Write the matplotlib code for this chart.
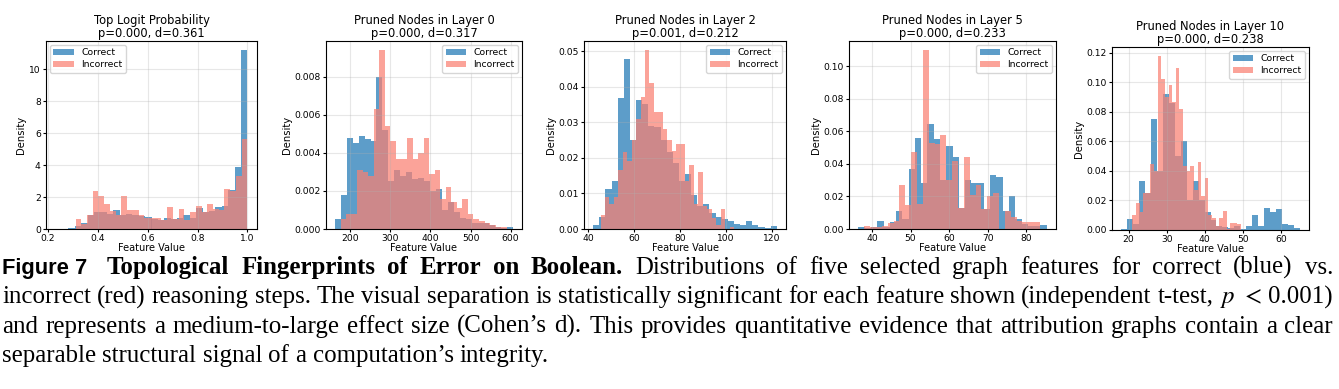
import numpy as np
import matplotlib.pyplot as plt

W, H = 1339, 389

titles = ["Top Logit Probability", "Pruned Nodes in Layer 0", "Pruned Nodes in Layer 2",
          "Pruned Nodes in Layer 5", "Pruned Nodes in Layer 10"]
p_values = ["0.000", "0.000", "0.001", "0.000", "0.000"]
d_values = ["0.361", "0.317", "0.212", "0.233", "0.238"]

# histogram ranges (first/last bin edge) and bar heights (density), 30 bins each
correct_ranges = [(0.23, 1.0), (162, 606), (42.3, 122), (36.5, 85.2), (18, 65)]
incorrect_ranges = [(0.31, 1.0), (176, 590), (45.5, 103.4), (38, 83.5), (21, 49.5)]

correct_density = [
    [0.03, 0.0, 0.06, 0.2, 0.4, 0.9, 1.05, 1.05, 0.95, 1.2, 0.9, 0.95, 0.9, 0.8, 0.75,
     0.65, 0.55, 0.7, 0.65, 0.7, 0.85, 0.7, 1.3, 1.05, 1.1, 1.38, 1.45, 2.42, 3.88, 11.2],
    [0.0005, 0.0018, 0.0048, 0.0045, 0.0049, 0.0047, 0.0046, 0.0080, 0.0052, 0.0025,
     0.0031, 0.0028, 0.0030, 0.0026, 0.0027, 0.0025, 0.0020, 0.0021, 0.0010, 0.0014,
     0.0009, 0.0006, 0.0005, 0.0003, 0.0003, 0.0003, 0.0002, 0.0001, 0.00005, 0.0001],
    [0.001, 0.0035, 0.0112, 0.0135, 0.0368, 0.0477, 0.0251, 0.0362, 0.035, 0.029,
     0.0287, 0.025, 0.0215, 0.0185, 0.0135, 0.0155, 0.0095, 0.0065, 0.007, 0.0045,
     0.0035, 0.0028, 0.0022, 0.0015, 0.0012, 0.0022, 0.0012, 0.0005, 0.0004, 0.0008],
    [0.001, 0.0005, 0.0015, 0.0047, 0.0015, 0.0045, 0.011, 0.006, 0.037, 0.056,
     0.028, 0.0645, 0.055, 0.030, 0.051, 0.044, 0.013, 0.030, 0.028, 0.028,
     0.012, 0.033, 0.032, 0.011, 0.020, 0.006, 0.003, 0.002, 0.002, 0.0025],
    [0.0005, 0.0075, 0.004, 0.033, 0.025, 0.075, 0.040, 0.092, 0.086, 0.050,
     0.060, 0.020, 0.033, 0.020, 0.012, 0.007, 0.003, 0.002, 0.0015, 0.003,
     0.001, 0.003, 0.010, 0.003, 0.015, 0.012, 0.014, 0.004, 0.0035, 0.0015],
]

incorrect_density = [
    [0.6, 0.3, 0.9, 2.35, 2.05, 1.55, 1.15, 0.85, 2.05, 1.2, 1.2, 0.85, 0.7, 0.7, 0.7,
     0.55, 1.4, 0.65, 1.25, 0.55, 1.05, 1.45, 1.05, 1.55, 1.25, 1.2, 2.5, 2.4, 3.3, 5.6],
    [0.0005, 0.0008, 0.0008, 0.0031, 0.0030, 0.0028, 0.0063, 0.0094, 0.0054, 0.0046,
     0.0037, 0.0037, 0.0048, 0.0037, 0.0040, 0.0048, 0.0029, 0.0031, 0.0016, 0.0022,
     0.0014, 0.0011, 0.0016, 0.0008, 0.0005, 0.0004, 0.0003, 0.0002, 0.0001, 0.0001],
    [0.0038, 0.009, 0.007, 0.009, 0.0165, 0.0215, 0.019, 0.025, 0.031, 0.037,
     0.0503, 0.041, 0.033, 0.033, 0.028, 0.025, 0.022, 0.024, 0.024, 0.0135,
     0.018, 0.007, 0.016, 0.0065, 0.0055, 0.003, 0.0012, 0.0055, 0.0, 0.0006],
    [0.002, 0.001, 0.0015, 0.002, 0.0035, 0.005, 0.027, 0.015, 0.047, 0.0155,
     0.110, 0.053, 0.052, 0.058, 0.030, 0.042, 0.013, 0.044, 0.021, 0.027,
     0.012, 0.020, 0.022, 0.0, 0.011, 0.0075, 0.005, 0.0045, 0.0045, 0.0045],
    [0.010, 0.018, 0.012, 0.025, 0.025, 0.045, 0.040, 0.118, 0.102, 0.090,
     0.098, 0.087, 0.110, 0.082, 0.043, 0.040, 0.043, 0.027, 0.046, 0.023,
     0.035, 0.010, 0.008, 0.003, 0.008, 0.013, 0.001, 0.005, 0.005, 0.004],
]

caption_lines = [
    "incorrect (red) reasoning steps. The visual separation is statistically "
    "significant for each feature shown (independent t-test,",
    "and represents a medium-to-large effect size (Cohen’s d). This provides "
    "quantitative evidence that attribution graphs contain a clear",
    "separable structural signal of a computation’s integrity.",
]

# axes boxes in pixels: left, top, right, bottom
boxes = [(46, 41, 257, 229), (326, 41, 522, 229), (584, 41, 786, 229),
         (849, 41, 1056, 229), (1112, 47, 1309, 230)]
legend_locs = ["upper left", "upper right", "upper right", "upper right", "upper right"]

blue = "#1f77b4"
red = "salmon"

fig = plt.figure(figsize=(W / 100, H / 100), dpi=100)

for i in range(5):
    l, t, r, b = boxes[i]
    ax = fig.add_axes([l / W, 1 - b / H, (r - l) / W, (b - t) / H])
    for rng, dens, color, label in [(correct_ranges[i], correct_density[i], blue, "Correct"),
                                    (incorrect_ranges[i], incorrect_density[i], red, "Incorrect")]:
        edges = np.linspace(rng[0], rng[1], len(dens) + 1)
        ax.hist(edges[:-1], bins=edges, weights=dens, color=color, alpha=0.72, label=label)
    ax.set_title(f"{titles[i]}\np={p_values[i]}, d={d_values[i]}", fontsize=8.3, pad=3,
                 linespacing=1.0)
    ax.set_xlabel("Feature Value", fontsize=7.0, labelpad=0)
    ax.set_ylabel("Density", fontsize=7.2, labelpad=2)
    ax.tick_params(labelsize=6.6, length=2.5, pad=1.2)
    ax.grid(True, alpha=0.3)
    ax.legend(loc=legend_locs[i], fontsize=6.7, handlelength=2.2, borderpad=0.4,
              labelspacing=0.3, borderaxespad=0.4)

# caption, justified line by line
plt.rcParams["mathtext.fontset"] = "stix"
renderer = fig.canvas.get_renderer()

# pick the serif size so that a full line fills the text width
probe = fig.text(0, 0, caption_lines[1], family="Liberation Serif", fontsize=10)
size = 10 * 1331 / probe.get_window_extent(renderer).width * 0.985
probe.remove()
serif = dict(family="Liberation Serif", fontsize=size)


def put_line(chunks, y, x0=2, x1=1333, extra=None):
    items = []
    for s, kw in chunks:
        t = fig.text(0, 1 - y / H, s, va="baseline", ha="left", **kw)
        items.append((t, t.get_window_extent(renderer).width))
    total = sum(w for _, w in items)
    extra = extra or {}
    n = len(items) - 1
    if x1 is None:
        gap = size * 100 / 72 * 0.25
    else:
        gap = (x1 - x0 - total - sum(extra.values())) / n
    x = x0
    for k, (t, w) in enumerate(items):
        t.set_x(x / W)
        x += w + gap + extra.get(k, 0)


def words(s, kw):
    return [(w, kw) for w in s.split()]


line1 = ([("Figure 7", dict(family="Liberation Sans", fontsize=size * 0.88, weight="bold"))]
         + words("Topological Fingerprints of Error on Boolean.", dict(serif, weight="bold"))
         + words("Distributions of five selected graph features for correct (blue) vs.", serif))
line2 = words(caption_lines[0], serif) + [("$p$", serif), ("$<$", serif), ("0.001)", serif)]
line3 = words(caption_lines[1], serif)
line4 = words(caption_lines[2], serif)

step = size * 100 / 72 * 1.18
top = 274
put_line(line1, top, extra={0: 8})
put_line(line2, top + step)
put_line(line3, top + 2 * step)
put_line(line4, top + 3 * step, x1=None)

fig.savefig("out.png", dpi=100)
